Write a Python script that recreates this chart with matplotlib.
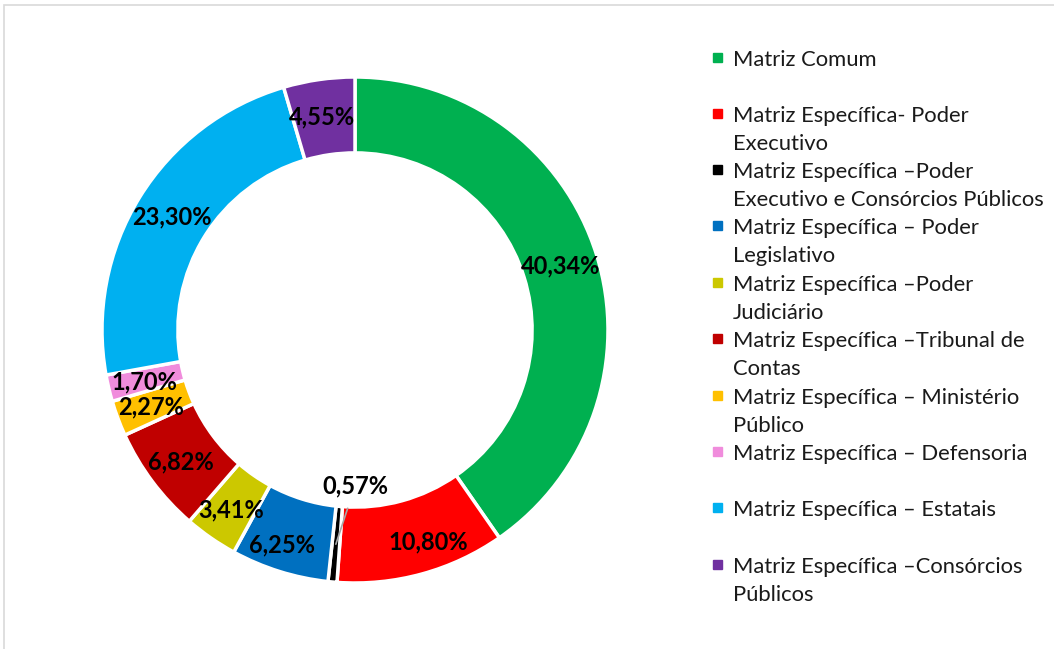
import matplotlib.pyplot as plt
import numpy as np
from matplotlib.patches import Rectangle

plt.rcParams['font.family'] = ['Lato', 'DejaVu Sans']

LABELS = [
    "Matriz Comum",
    "Matriz Específica- Poder\nExecutivo",
    "Matriz Específica –Poder\nExecutivo e Consórcios Públicos",
    "Matriz Específica – Poder\nLegislativo",
    "Matriz Específica –Poder\nJudiciário",
    "Matriz Específica –Tribunal de\nContas",
    "Matriz Específica – Ministério\nPúblico",
    "Matriz Específica – Defensoria",
    "Matriz Específica – Estatais",
    "Matriz Específica –Consórcios\nPúblicos",
]
VALUES = [40.34, 10.80, 0.57, 6.25, 3.41, 6.82, 2.27, 1.70, 23.30, 4.55]
COLORS = ["#00B050", "#FF0000", "#000000", "#0070C0", "#CCC800",
          "#C00000", "#FFC000", "#F08CDC", "#00B0F0", "#7030A0"]

# small pixel nudges of the data labels, as placed in the original
NUDGE = [(0, 0), (16, 5), (0, 0), (-9, 10), (-1, 3),
         (-2, 3), (-2, 2), (-1, 2), (0, 0), (-2, 0)]

W, H = 1054, 649
fig = plt.figure(figsize=(W / 100, H / 100), dpi=100)

# chart frame (only top/left edges visible)
fig.patches.append(Rectangle((4 / W, -0.1), 1.2, (H - 5) / H + 0.1,
                             transform=fig.transFigure, fill=False,
                             edgecolor="#D9D9D9", linewidth=1.2))

cx, cy, R = 355, 330, 253
half = 262
ax = fig.add_axes([(cx - half) / W, (H - cy - half) / H, 2 * half / W, 2 * half / H])

width = 0.30
wedges, _ = ax.pie(VALUES, colors=COLORS, startangle=90, counterclock=False,
                   radius=1, wedgeprops=dict(width=width, edgecolor="white", linewidth=2.5))
lim = half / R
ax.set_xlim(-lim, lim)
ax.set_ylim(-lim, lim)
ax.set_aspect("equal")
ax.axis("off")

r_mid = 1 - width / 2
total = sum(VALUES)
cum = 0
for v, (dx, dy) in zip(VALUES, NUDGE):
    ang = np.deg2rad(90 - (cum + v / 2) / total * 360)
    cum += v
    txt = f"{v:.2f}%".replace(".", ",")
    x, y = r_mid * np.cos(ang), r_mid * np.sin(ang)
    if v < 1:
        ax.annotate(txt, xy=(x, y), xytext=(0, -0.617), ha="center", va="center",
                    fontsize=17, fontweight="bold", color="black",
                    arrowprops=dict(arrowstyle="-", color="#A6A6A6", lw=1.2,
                                    shrinkA=6, shrinkB=0))
    else:
        ax.text(x + dx / R, y - dy / R, txt, ha="center", va="center",
                fontsize=17, fontweight="bold", color="black")

# legend, drawn by hand to follow the original spacing
ys = [58, 114, 170, 226, 283, 339, 396, 452, 508, 565]
for lab, col, y in zip(LABELS, COLORS, ys):
    fig.patches.append(Rectangle(((717 - 4) / W, (H - y - 4) / H), 9 / W, 9 / H,
                                 transform=fig.transFigure, color=col))
    for k, line in enumerate(lab.split("\n")):
        fig.text(733 / W, (H - y - 8 - 28 * k) / H, line, ha="left",
                 va="baseline", fontsize=15.8, color="#1a1a1a")

fig.savefig("out.png", dpi=100, facecolor="white")
